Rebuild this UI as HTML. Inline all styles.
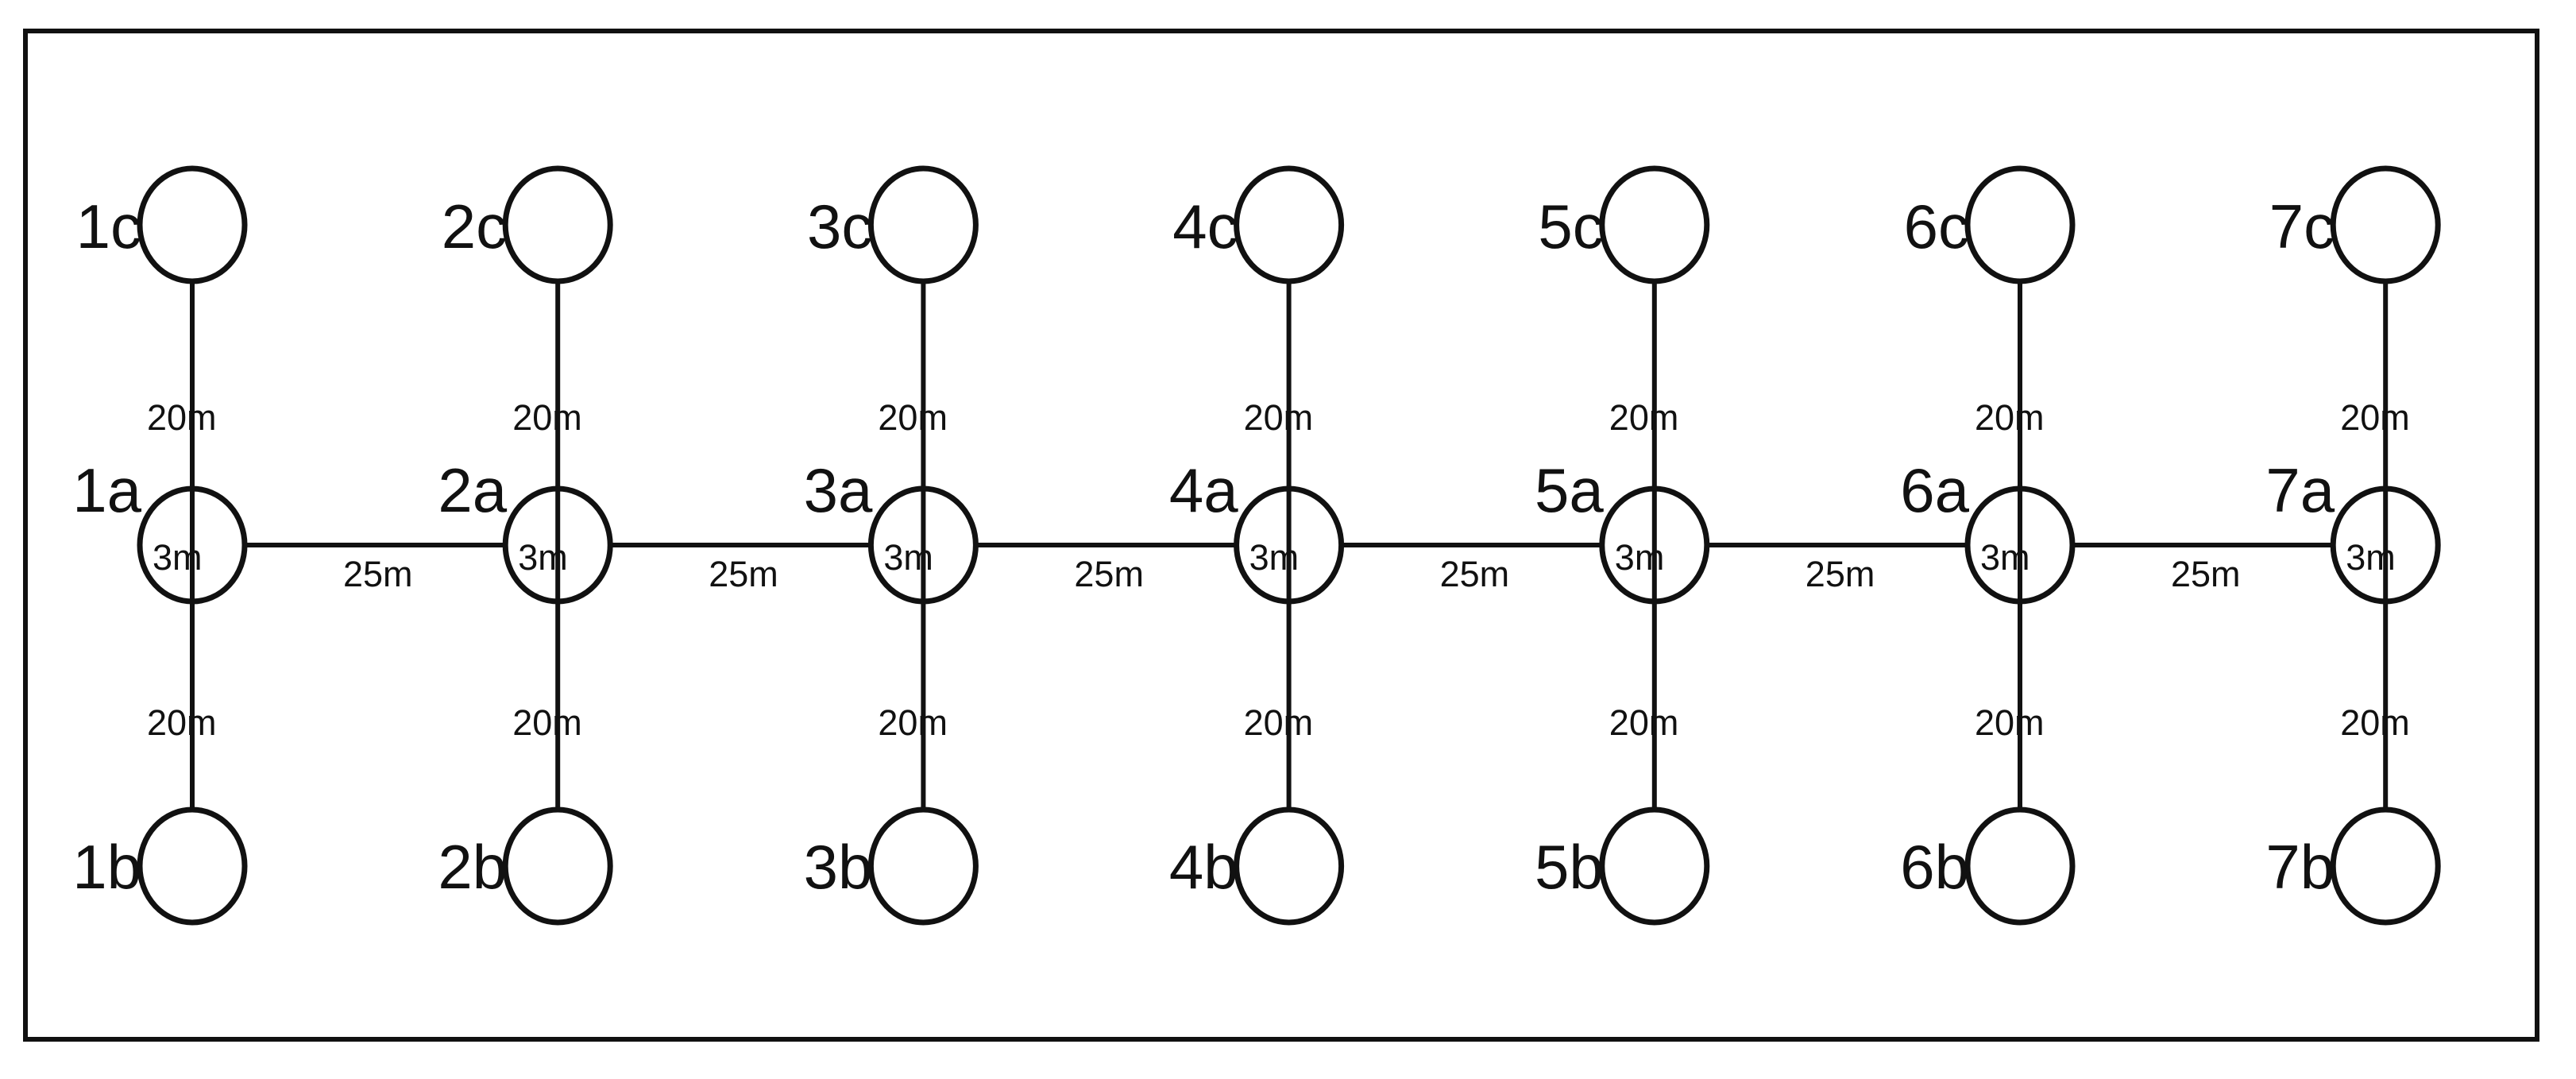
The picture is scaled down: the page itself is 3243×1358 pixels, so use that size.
<!DOCTYPE html>
<html><head><meta charset="utf-8"><style>html,body{margin:0;padding:0;background:#fff}svg{display:block}</style></head>
<body>
<svg width="3243" height="1358" viewBox="0 0 3243 1358" xmlns="http://www.w3.org/2000/svg" font-family="Liberation Sans, Arial, sans-serif" fill="#111">
<rect x="32" y="39" width="3162" height="1269" fill="none" stroke="#111" stroke-width="6"/>
<g id="cols" stroke="#111" stroke-width="7" fill="none">
</g>
<script>
(function(){
var svg=document.querySelector('svg');var g=document.getElementById('cols');
var ns='http://www.w3.org/2000/svg';
function el(n,a,t,p){var e=document.createElementNS(ns,n);for(var k in a)e.setAttribute(k,a[k]);if(t)e.textContent=t;(p||svg).appendChild(e);return e;}
var yc=283,ya=686,yb=1090,rx=66,ry=71,sp=460.2;
for(var i=0;i<7;i++){
 var cx=242+sp*i;
 el('line',{x1:cx,y1:yc+ry,x2:cx,y2:yb-ry,'stroke-width':6},null,g);
 if(i<6) el('line',{x1:cx+rx,y1:ya,x2:cx+sp-rx,y2:ya,'stroke-width':6},null,g);
 el('ellipse',{cx:cx,cy:yc,rx:rx,ry:ry},null,g);
 el('ellipse',{cx:cx,cy:ya,rx:rx,ry:ry},null,g);
 el('ellipse',{cx:cx,cy:yb,rx:rx,ry:ry},null,g);
 var n=i+1;
 el('text',{x:cx-64,y:yc+29,'font-size':78,'text-anchor':'end'},n+'c');
 el('text',{x:cx-64,y:ya-42,'font-size':78,'text-anchor':'end'},n+'a');
 el('text',{x:cx-64,y:yb+28,'font-size':78,'text-anchor':'end'},n+'b');
 el('text',{x:cx-57,y:ya-145,'font-size':45},'20m');
 el('text',{x:cx-57,y:ya+239,'font-size':45},'20m');
 el('text',{x:cx-50,y:ya+31,'font-size':45},'3m');
 if(i<6) el('text',{x:cx+190,y:ya+52,'font-size':45},'25m');
}
})();
</script>
</svg>
</body></html>
